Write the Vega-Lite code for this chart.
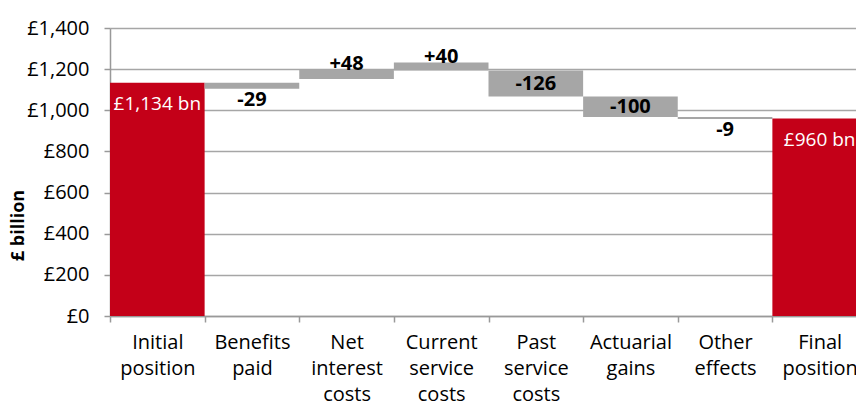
{
  "$schema": "https://vega.github.io/schema/vega-lite/v6.json",
  "width": 746,
  "height": 288,
  "autosize": {"type": "none"},
  "padding": {"left": 110, "top": 28, "right": 0, "bottom": 87},
  "config": {
    "view": {"stroke": null},
    "font": "Open Sans",
    "text": {"font": "Open Sans"}
  },
  "data": {
    "values": [
      {"category": "Initial position", "start": 0, "end": 1134, "kind": "total", "label": "£1,134 bn"},
      {"category": "Benefits paid", "start": 1105, "end": 1134, "kind": "change", "label": "-29"},
      {"category": "Net interest costs", "start": 1152, "end": 1200, "kind": "change", "label": "+48"},
      {"category": "Current service costs", "start": 1193, "end": 1232, "kind": "change", "label": "+40"},
      {"category": "Past service costs", "start": 1067, "end": 1193, "kind": "change", "label": "-126"},
      {"category": "Actuarial gains", "start": 967, "end": 1067, "kind": "change", "label": "-100"},
      {"category": "Other effects", "start": 958, "end": 967, "kind": "change", "label": "-9"},
      {"category": "Final position", "start": 0, "end": 960, "kind": "total", "label": "£960 bn"}
    ]
  },
  "encoding": {
    "x": {
      "field": "category",
      "type": "nominal",
      "sort": null,
      "scale": {"range": [0, 757], "paddingInner": 0, "paddingOuter": 0},
      "axis": {
        "title": null,
        "labelAngle": 0,
        "labelExpr": "split(datum.label, ' ')",
        "labelFontSize": 20,
        "labelLineHeight": 26,
        "labelColor": "#000000",
        "labelPadding": 10,
        "labelLimit": 200,
        "tickBand": "extent",
        "tickSize": 6,
        "tickWidth": 1.5,
        "tickColor": "#999999",
        "domainColor": "#999999",
        "domainWidth": 1.5,
        "grid": false
      }
    }
  },
  "layer": [
    {
      "mark": {"type": "bar"},
      "encoding": {
        "y": {
          "field": "start",
          "type": "quantitative",
          "scale": {"domain": [0, 1400], "nice": false},
          "axis": {
            "values": [0, 200, 400, 600, 800, 1000, 1200, 1400],
            "labelExpr": "'£' + format(datum.value, ',')",
            "labelFontSize": 20,
            "labelColor": "#000000",
            "labelPadding": 15,
            "tickSize": 6,
            "tickWidth": 1.5,
            "tickColor": "#999999",
            "domainColor": "#999999",
            "domainWidth": 1.5,
            "grid": true,
            "gridColor": "#a6a6a6",
            "gridWidth": 1.5,
            "title": "£ billion",
            "titleFontSize": 18,
            "titleFontWeight": "bold",
            "titleColor": "#000000",
            "titleAngle": -90,
            "titleAlign": "center",
            "titleBaseline": "middle",
            "titleX": -92,
            "titleY": 197
          }
        },
        "y2": {"field": "end"},
        "color": {
          "field": "kind",
          "type": "nominal",
          "scale": {"domain": ["total", "change"], "range": ["#c40018", "#a6a6a6"]},
          "legend": null
        }
      }
    },
    {
      "transform": [{"filter": "datum.category == 'Benefits paid' || datum.category == 'Other effects'"}],
      "mark": {"type": "text", "fontSize": 20, "fontWeight": "bold", "baseline": "top", "dy": 1, "color": "#000000"},
      "encoding": {"y": {"field": "start", "type": "quantitative"}, "text": {"field": "label"}}
    },
    {
      "transform": [{"filter": "datum.category == 'Net interest costs' || datum.category == 'Current service costs'"}],
      "mark": {"type": "text", "fontSize": 20, "fontWeight": "bold", "baseline": "alphabetic", "dy": 0.5, "color": "#000000"},
      "encoding": {"y": {"field": "end", "type": "quantitative"}, "text": {"field": "label"}}
    },
    {
      "transform": [{"filter": "datum.category == 'Past service costs'"}],
      "mark": {"type": "text", "fontSize": 20, "fontWeight": "bold", "baseline": "middle", "dy": 13, "color": "#000000"},
      "encoding": {"y": {"field": "end", "type": "quantitative"}, "text": {"field": "label"}}
    },
    {
      "transform": [{"filter": "datum.category == 'Actuarial gains'"}],
      "mark": {"type": "text", "fontSize": 20, "fontWeight": "bold", "baseline": "middle", "dy": 10, "color": "#000000"},
      "encoding": {"y": {"field": "end", "type": "quantitative"}, "text": {"field": "label"}}
    },
    {
      "transform": [{"filter": "datum.kind == 'total'"}],
      "mark": {"type": "text", "fontSize": 19, "baseline": "middle", "dy": 21, "color": "#ffffff"},
      "encoding": {"y": {"field": "end", "type": "quantitative"}, "text": {"field": "label"}}
    }
  ]
}
